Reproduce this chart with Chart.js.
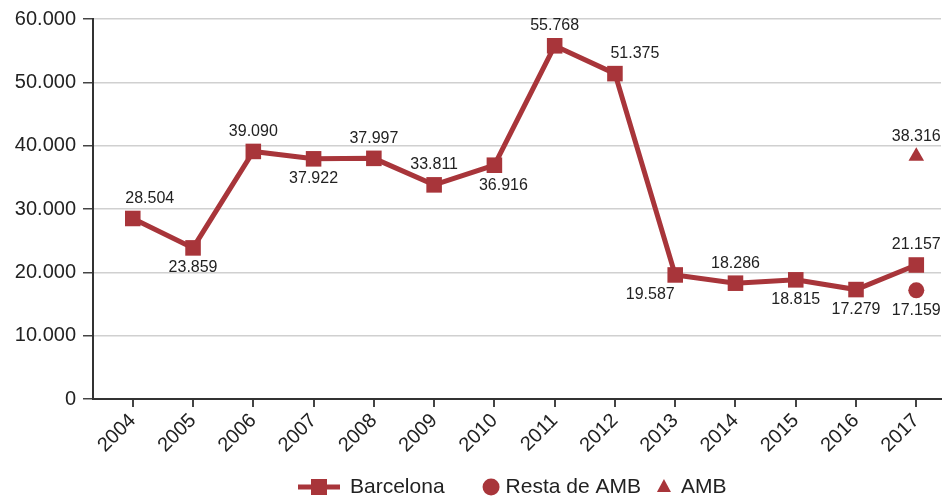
<!DOCTYPE html>
<html>
<head>
<meta charset="utf-8">
<script src="https://cdn.jsdelivr.net/npm/chart.js@4/dist/chart.umd.min.js"></script>
<style>
  html, body { margin: 0; padding: 0; background: #fff; }
  #wrap { width: 952px; height: 499px; }
</style>
</head>
<body>
<div id="wrap"><canvas id="chart"></canvas></div>
<script>
const years = ["2004", "2005", "2006", "2007", "2008", "2009", "2010", "2011", "2012", "2013", "2014", "2015", "2016", "2017"];
const barcelona = [28504, 23859, 39090, 37922, 37997, 33811, 36916, 55768, 51375, 19587, 18286, 18815, 17279, 21157];
const restaYears = ["2017"];
const restaAmb = [17159];
const ambYears = ["2017"];
const amb = [38316];
const yTickValues = [0, 10000, 20000, 30000, 40000, 50000, 60000];

const RED = "#a8353a";
const TEXT = "#222";
const FONT = "'Liberation Sans', Arial, sans-serif";

// which value labels sit under their marker, and small sideways nudges (per dataset)
const LABEL_BELOW = [[1, 3, 6, 9, 11, 12], [0], []];
const LABEL_SHIFT = [{ 0: 17, 6: 9, 8: 20, 9: -25 }, {}, {}];

function fmt(n) {
  return String(n).replace(/\B(?=(\d{3})+(?!\d))/g, ".");
}

function toPoints(xs, ys) {
  return xs.map((x, i) => ({ x: Number(x), y: ys[i] }));
}

const pointValues = {
  id: "pointValues",
  afterDatasetsDraw(chart) {
    const ctx = chart.ctx;
    ctx.save();
    ctx.font = `16px ${FONT}`;
    ctx.fillStyle = TEXT;
    ctx.textAlign = "center";
    ctx.textBaseline = "middle";
    chart.data.datasets.forEach((ds, i) => {
      const below = LABEL_BELOW[i];
      const shift = LABEL_SHIFT[i];
      chart.getDatasetMeta(i).data.forEach((pt, j) => {
        const dy = below.includes(j) ? 20 : -20;
        ctx.fillText(fmt(ds.data[j].y), pt.x + (shift[j] || 0), pt.y + dy);
      });
    });
    ctx.restore();
  },
};

// legend drawn by hand so Barcelona keeps its line-with-square key
const manualLegend = {
  id: "manualLegend",
  afterDraw(chart) {
    const ctx = chart.ctx;
    const y = 487;
    let x = 298;
    ctx.save();
    ctx.font = `21px ${FONT}`;
    ctx.textBaseline = "middle";
    ctx.fillStyle = RED;
    ctx.strokeStyle = RED;
    const names = chart.data.datasets.map((d) => d.label);

    // Barcelona
    ctx.lineWidth = 5;
    ctx.beginPath();
    ctx.moveTo(x, y);
    ctx.lineTo(x + 42, y);
    ctx.stroke();
    ctx.fillRect(x + 21 - 8, y - 8, 16, 16);
    x += 52;
    ctx.fillStyle = TEXT;
    ctx.fillText(names[0], x, y);
    x += ctx.measureText(names[0]).width + 38;

    // Resta de AMB
    ctx.fillStyle = RED;
    ctx.beginPath();
    ctx.arc(x + 8.5, y, 8.5, 0, Math.PI * 2);
    ctx.fill();
    x += 23;
    ctx.fillStyle = TEXT;
    ctx.fillText(names[1], x, y);
    x += ctx.measureText(names[1]).width + 16;

    // AMB
    ctx.fillStyle = RED;
    ctx.beginPath();
    ctx.moveTo(x + 7, y - 8);
    ctx.lineTo(x + 14, y + 5);
    ctx.lineTo(x, y + 5);
    ctx.closePath();
    ctx.fill();
    x += 24;
    ctx.fillStyle = TEXT;
    ctx.fillText(names[2], x, y);
    ctx.restore();
  },
};

new Chart(document.getElementById("chart"), {
  type: "line",
  data: {
    datasets: [
      {
        label: "Barcelona",
        data: toPoints(years, barcelona),
        borderColor: RED,
        backgroundColor: RED,
        borderWidth: 5,
        pointStyle: "rect",
        pointRadius: 11,
        pointBorderWidth: 0,
        tension: 0,
      },
      {
        label: "Resta de AMB",
        data: toPoints(restaYears, restaAmb),
        borderColor: RED,
        backgroundColor: RED,
        showLine: false,
        pointStyle: "circle",
        pointRadius: 8,
        pointBorderWidth: 0,
      },
      {
        label: "AMB",
        data: toPoints(ambYears, amb),
        borderColor: RED,
        backgroundColor: RED,
        showLine: false,
        pointStyle: "triangle",
        pointRadius: 9,
        pointBorderWidth: 0,
      },
    ],
  },
  options: {
    responsive: true,
    maintainAspectRatio: false,
    animation: false,
    layout: { padding: { top: 16, right: 7, left: 0, bottom: 0 } },
    scales: {
      x: {
        type: "linear",
        min: 2003.34,
        max: 2017.41,
        afterBuildTicks: (s) => { s.ticks = years.map((y) => ({ value: Number(y) })); },
        afterFit: (s) => { s.height = 100; },
        border: { color: "#333", width: 2 },
        grid: { drawOnChartArea: false, tickLength: 8, color: "#444", tickColor: "#444", lineWidth: 2 },
        ticks: {
          autoSkip: false,
          includeBounds: false,
          minRotation: 45,
          maxRotation: 45,
          padding: 2,
          color: TEXT,
          font: { family: FONT, size: 20 },
          callback: (v) => String(v),
        },
      },
      y: {
        min: 0,
        max: 60000,
        afterBuildTicks: (s) => { s.ticks = yTickValues.map((v) => ({ value: v })); },
        afterFit: (s) => { s.width = 93; },
        border: { color: "#333", width: 2 },
        grid: { color: "#d0d0d0", lineWidth: 1.5, tickColor: "#444", tickLength: 10 },
        ticks: {
          padding: 7,
          color: TEXT,
          font: { family: FONT, size: 20 },
          callback: (v) => fmt(v),
        },
      },
    },
    plugins: {
      legend: { display: false },
      tooltip: { enabled: false },
    },
  },
  plugins: [pointValues, manualLegend],
});
</script>
</body>
</html>
